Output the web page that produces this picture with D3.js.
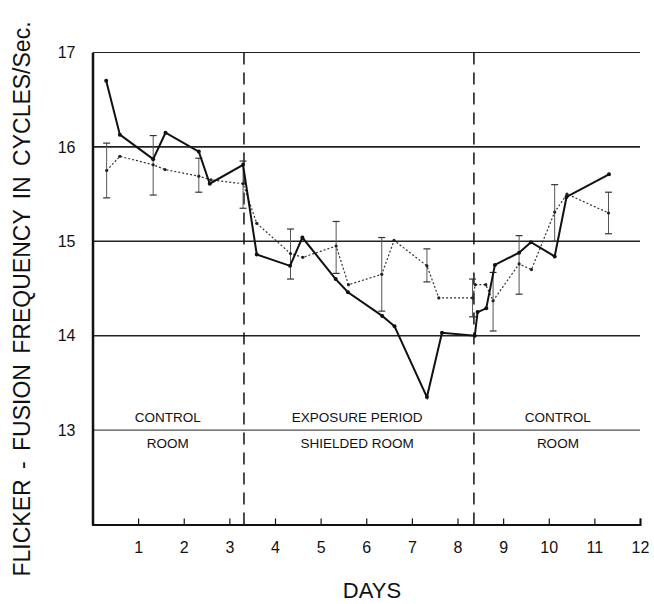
<!DOCTYPE html>
<html>
<head>
<meta charset="utf-8">
<script src="https://cdn.jsdelivr.net/npm/d3@7"></script>
<style>
  body { margin: 0; background: #fff; }
  text { font-family: "Liberation Sans", Arial, sans-serif; fill: #111; }
</style>
</head>
<body>
<svg id="chart" width="654" height="604"></svg>
<script>
// values (days, cycles/sec)
var solidDays = [0.3, 0.6, 1.33, 1.6, 2.33, 2.57, 3.3, 3.6, 4.33, 4.6, 5.33, 5.6, 6.35, 6.62, 7.33, 7.66, 8.38, 8.44, 8.63, 8.82, 9.35, 9.61, 10.13, 10.39, 11.32];
var solidValues = [16.70, 16.13, 15.87, 16.15, 15.95, 15.61, 15.81, 14.86, 14.74, 15.04, 14.60, 14.46, 14.21, 14.10, 13.35, 14.03, 14.00, 14.25, 14.29, 14.75, 14.88, 14.99, 14.84, 15.47, 15.71];

var dottedDays = [0.31, 0.6, 1.33, 1.59, 2.33, 2.6, 3.3, 3.6, 4.34, 4.61, 5.34, 5.61, 6.34, 6.61, 7.33, 7.59, 8.33, 8.39, 8.62, 8.78, 9.35, 9.62, 10.13, 10.4, 11.31];
var dottedValues = [15.75, 15.90, 15.81, 15.76, 15.69, 15.65, 15.61, 15.19, 14.87, 14.83, 14.95, 14.54, 14.65, 15.01, 14.74, 14.40, 14.40, 14.54, 14.54, 14.37, 14.76, 14.70, 15.31, 15.50, 15.30];

// error bars on the dotted series
var errDays = [0.31, 1.33, 2.33, 3.3, 4.34, 5.34, 6.34, 7.33, 8.33, 8.78, 9.35, 10.13, 11.31];
var errHigh = [16.04, 16.12, 15.88, 15.85, 15.13, 15.21, 15.04, 14.92, 14.60, 14.67, 15.06, 15.60, 15.52];
var errLow  = [15.46, 15.49, 15.52, 15.35, 14.60, 14.66, 14.26, 14.57, 14.20, 14.05, 14.44, 15.00, 15.08];

var dayTicks = [1, 2, 3, 4, 5, 6, 7, 8, 9, 10, 11, 12];
var freqTicks = [13, 14, 15, 16, 17];
var periodBounds = [3.32, 8.36];
var regionTop = ['CONTROL', 'EXPOSURE PERIOD', 'CONTROL'];
var regionBottom = ['ROOM', 'SHIELDED ROOM', 'ROOM'];
var regionAt = [1.65, 5.8, 10.2];

var svg = d3.select('#chart');
var x = d3.scaleLinear().domain([0, 12]).range([92.5, 640]);
var y = d3.scaleLinear().domain([12, 17]).range([524.5, 52.5]);

// horizontal rules
svg.selectAll('.grid').data(freqTicks).enter().append('line')
  .attr('class', 'grid')
  .attr('x1', x(0)).attr('x2', x(12))
  .attr('y1', function(d) { return y(d); }).attr('y2', function(d) { return y(d); })
  .attr('stroke', '#222')
  .attr('stroke-width', function(d) { return (d == 13 || d == 17) ? 1 : 1.6; });

// period separators
svg.selectAll('.sep').data(periodBounds).enter().append('line')
  .attr('class', 'sep')
  .attr('x1', function(d) { return x(d); }).attr('x2', function(d) { return x(d); })
  .attr('y1', y(17)).attr('y2', y(12))
  .attr('stroke', '#111').attr('stroke-width', 1.5)
  .attr('stroke-dasharray', '12,8');

// axes
var xAxisG = svg.append('g').attr('transform', 'translate(0,' + y(12) + ')')
  .call(d3.axisBottom(x).tickValues(dayTicks).tickSize(-6).tickPadding(17));
xAxisG.select('.domain').attr('stroke', '#111').attr('stroke-width', 2);
xAxisG.selectAll('.tick line').attr('stroke', '#111').attr('stroke-width', 1.2);
xAxisG.selectAll('.tick text').attr('font-size', 16).style('font-family', '"Liberation Sans", Arial, sans-serif').attr('fill', '#111');

var yAxisG = svg.append('g').attr('transform', 'translate(' + x(0) + ',0)')
  .call(d3.axisLeft(y).tickValues(freqTicks).tickFormat(d3.format('d')).tickSize(0).tickPadding(17));
yAxisG.select('.domain').attr('stroke', '#111').attr('stroke-width', 2.5);
yAxisG.selectAll('.tick text').attr('font-size', 16).style('font-family', '"Liberation Sans", Arial, sans-serif').attr('fill', '#111');

// region labels
svg.selectAll('.rtop').data(regionTop).enter().append('text')
  .attr('class', 'rtop')
  .attr('x', function(d, i) { return x(regionAt[i]); })
  .attr('y', y(13) - 8)
  .attr('text-anchor', 'middle').attr('font-size', 13.5)
  .text(function(d) { return d; });
svg.selectAll('.rbot').data(regionBottom).enter().append('text')
  .attr('class', 'rbot')
  .attr('x', function(d, i) { return x(regionAt[i]); })
  .attr('y', y(13) + 18)
  .attr('text-anchor', 'middle').attr('font-size', 13.5)
  .text(function(d) { return d; });

// error bars
var errG = svg.selectAll('.err').data(errDays).enter().append('g').attr('class', 'err');
errG.append('line')
  .attr('x1', function(d) { return x(d); }).attr('x2', function(d) { return x(d); })
  .attr('y1', function(d, i) { return y(errHigh[i]); }).attr('y2', function(d, i) { return y(errLow[i]); })
  .attr('stroke', '#555').attr('stroke-width', 1);
errG.append('line')
  .attr('x1', function(d) { return x(d) - 3.5; }).attr('x2', function(d) { return x(d) + 3.5; })
  .attr('y1', function(d, i) { return y(errHigh[i]); }).attr('y2', function(d, i) { return y(errHigh[i]); })
  .attr('stroke', '#333').attr('stroke-width', 1.2);
errG.append('line')
  .attr('x1', function(d) { return x(d) - 3.5; }).attr('x2', function(d) { return x(d) + 3.5; })
  .attr('y1', function(d, i) { return y(errLow[i]); }).attr('y2', function(d, i) { return y(errLow[i]); })
  .attr('stroke', '#333').attr('stroke-width', 1.2);

var line = d3.line()
  .x(function(d) { return x(d[0]); })
  .y(function(d) { return y(d[1]); });

var dotted = dottedDays.map(function(d, i) { return [d, dottedValues[i]]; });
var solid = solidDays.map(function(d, i) { return [d, solidValues[i]]; });

svg.append('path').datum(dotted)
  .attr('d', line).attr('fill', 'none')
  .attr('stroke', '#333').attr('stroke-width', 1.2).attr('stroke-dasharray', '2,2');
svg.selectAll('.ddot').data(dotted).enter().append('circle')
  .attr('class', 'ddot')
  .attr('cx', function(d) { return x(d[0]); }).attr('cy', function(d) { return y(d[1]); })
  .attr('r', 1.6).attr('fill', '#222');

svg.append('path').datum(solid)
  .attr('d', line).attr('fill', 'none')
  .attr('stroke', '#111').attr('stroke-width', 2);
svg.selectAll('.sdot').data(solid).enter().append('circle')
  .attr('class', 'sdot')
  .attr('cx', function(d) { return x(d[0]); }).attr('cy', function(d) { return y(d[1]); })
  .attr('r', 2).attr('fill', '#111');

// axis titles
svg.append('text')
  .attr('x', 372).attr('y', 598)
  .attr('text-anchor', 'middle').attr('font-size', 22)
  .text('DAYS');

svg.append('text')
  .attr('transform', 'translate(30,299) rotate(-90)')
  .attr('text-anchor', 'middle').attr('font-size', 23)
  .attr('word-spacing', 4)
  .text('FLICKER - FUSION  FREQUENCY  IN  CYCLES/Sec.');
</script>
</body>
</html>
